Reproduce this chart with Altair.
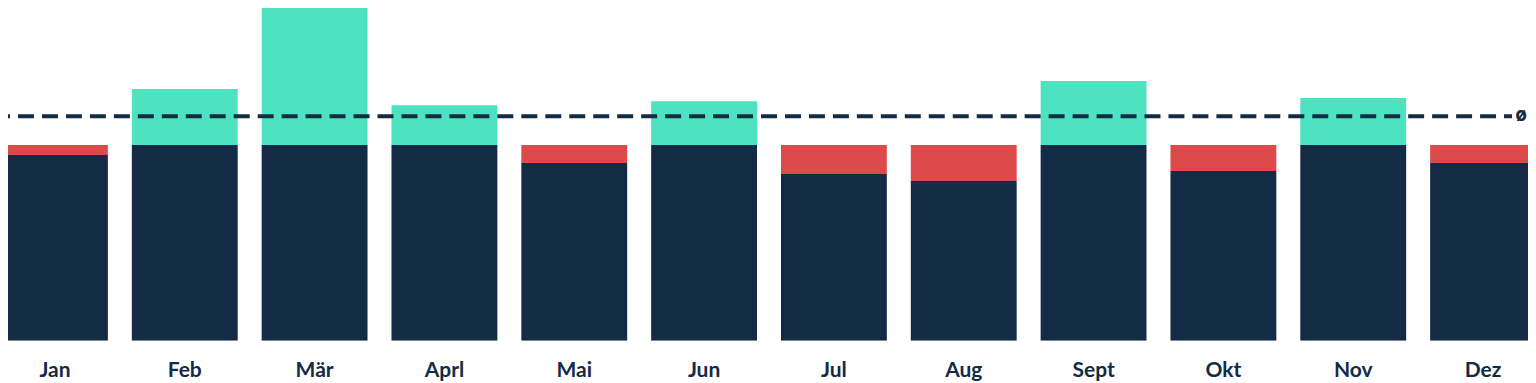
import altair as alt
import pandas as pd

months = ["Jan", "Feb", "Mär", "Aprl", "Mai", "Jun", "Jul", "Aug", "Sept", "Okt", "Nov", "Dez"]
actual = [94.9, 128.6, 219.0, 120.4, 90.8, 122.4, 85.2, 81.6, 132.7, 86.7, 124.0, 90.8]
target = 100.0

NAVY = "#132b45"
GREEN = "#4de2c0"
RED = "#dc4a4a"

W = 1536
H = 341
YMAX = 174.0

rows = []
for m, a in zip(months, actual):
    rows.append({"month": m, "y0": 0.0, "y1": min(a, target), "kind": "base"})
    if a < target:
        rows.append({"month": m, "y0": a, "y1": target, "kind": "deficit"})
    else:
        rows.append({"month": m, "y0": target, "y1": a, "kind": "surplus"})
df = pd.DataFrame(rows)
avg = sum(actual) / len(actual)
avg_df = pd.DataFrame({"avg": [avg], "sym": ["ø"]})

xenc = alt.X(
    "month:N",
    sort=months,
    scale=alt.Scale(paddingInner=24 / 130, paddingOuter=0),
    axis=alt.Axis(
        title=None, domain=False, ticks=False, grid=False, labelAngle=0,
        labelFont="Lato", labelFontSize=21, labelFontWeight="bold",
        labelColor=NAVY, labelPadding=19, labelBaseline="top",
    ),
)
yscale = alt.Scale(domain=[0, YMAX], nice=False, zero=True)

bars = alt.Chart(df).mark_bar(clip=True, cornerRadius=0).encode(
    x=xenc,
    y=alt.Y("y1:Q", scale=yscale, axis=None),
    y2="y0:Q",
    color=alt.Color(
        "kind:N",
        scale=alt.Scale(domain=["base", "deficit", "surplus"], range=[NAVY, RED, GREEN]),
        legend=None,
    ),
)

line = alt.Chart(avg_df).mark_rule(
    color=NAVY, strokeWidth=4, strokeDash=[16, 8], strokeDashOffset=8
).encode(
    y=alt.Y("avg:Q", scale=yscale),
    x=alt.value(0),
    x2=alt.value(W - 24),
)

sym = alt.Chart(avg_df).mark_text(
    font="Open Sans", fontSize=19, fontWeight="bold",
    color=NAVY, align="center", baseline="middle", dy=-1,
).encode(
    y=alt.Y("avg:Q", scale=yscale),
    x=alt.value(W - 15),
    text="sym:N",
)

chart = alt.layer(bars, line, sym).properties(
    width=W, height=H,
    padding={"left": -8, "top": -8, "right": -8, "bottom": 0},
    background="white",
).configure_view(stroke=None)

chart.save("out.html", embed_options={"renderer": "svg", "actions": False})
